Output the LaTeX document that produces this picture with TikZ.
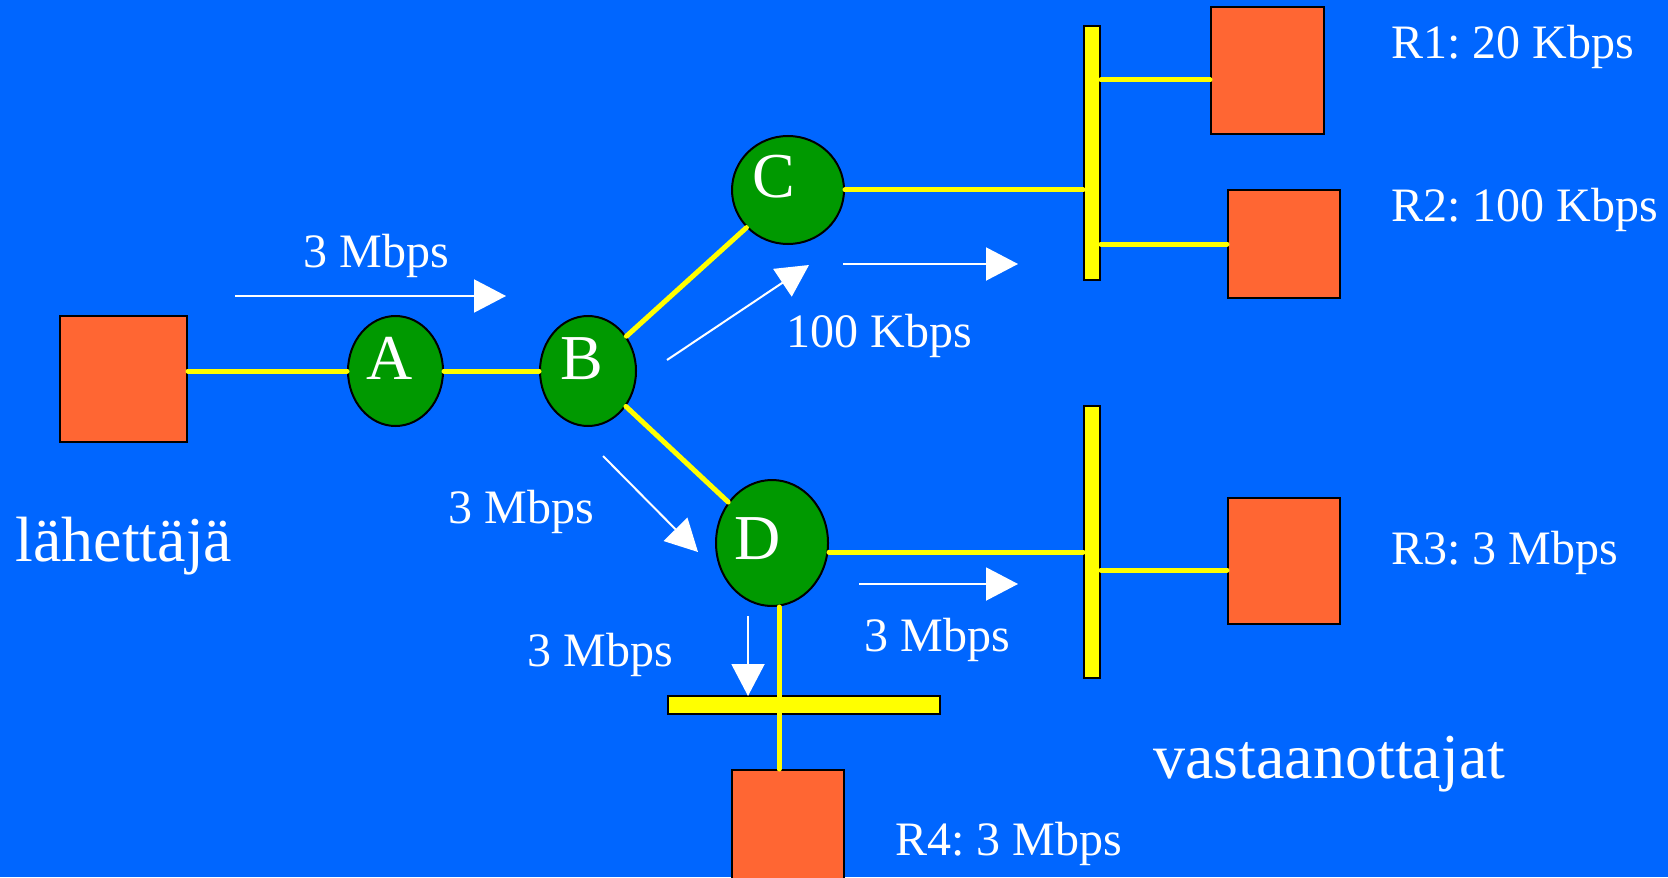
\documentclass[tikz,border=0pt]{standalone}
\usepackage{fontspec}
\setmainfont{Liberation Serif}
\usetikzlibrary{positioning, arrows.meta, shapes.geometric, calc}
\definecolor{BlueBg}{HTML}{0066FF}
\definecolor{HostFill}{HTML}{FF6633}
\definecolor{RouterFill}{HTML}{009900}
\definecolor{LinkYel}{HTML}{FFFF00}
\frenchspacing
\tikzset{
  host/.style={draw=black, fill=HostFill, line width=1pt, inner sep=0pt,
               minimum width=56pt, minimum height=63pt},
  router/.style={ellipse, draw=black, fill=RouterFill, line width=1pt,
                 inner sep=0pt, text=white, font=\fontsize{32}{32}\selectfont,
                 text height=22pt, text depth=14pt,
                 minimum width=56pt, minimum height=55pt},
  bus/.style={draw=black, fill=LinkYel, line width=1pt, inner sep=0pt},
  link/.style={draw=LinkYel, line width=2.5pt, line cap=round},
  flow/.style={draw=white, line width=1pt, -{Triangle[length=16pt,width=16.5pt]}},
  rate/.style={text=white, font=\fontsize{24}{28}\selectfont, inner sep=0pt,
               anchor=base west},
  big/.style={text=white, font=\fontsize{32}{38}\selectfont, inner sep=0pt,
              anchor=base west},
}

\begin{document}
\begin{tikzpicture}[x=0.5pt, y=-0.5pt]
  \fill[BlueBg] (0,0) rectangle (1668,877);
  \useasboundingbox (0,0) rectangle (1668,877);

  % hosts and routers
  \node[host, minimum width=63.5pt] (send) at (123.5,379) {};
  \node[router, minimum width=47.5pt] (A) at (395.5,371) {\hspace*{-6pt}A};
  \node[router, minimum width=48pt]   (B) at (588,371)   {\hspace*{-6pt}B};
  \node[router, minimum height=54pt]  (C) at (788,190)   {\hspace*{-14pt}C};
  \node[router, minimum height=63pt, text depth=6pt] (D) at (772,543) {\hspace*{-14pt}D};

  \node[bus, minimum width=8pt, minimum height=127pt] (bus1) at (1092,153) {};
  \node[bus, minimum width=8pt, minimum height=136pt] (bus2) at (1092,542) {};
  \node[bus, minimum width=136pt, minimum height=9pt] (bus3) at (804,705) {};

  \node[host, minimum width=56.5pt, minimum height=63.5pt] (R1) at (1267.5,70.5) {};
  \node[host, minimum height=54pt] (R2) at (1284,244) {};
  \node[host] (R3) at (1284,561) {};
  \node[host] (R4) at (788,833) {};

  % links
  \draw[link] (A.west) -- (A.west -| send.east);
  \draw[link] (A) -- (B);
  \draw[link] (B) -- (C);
  \draw[link] (B) -- (D);
  \draw[link] (C.east) -- (C.east -| bus1.west);
  \draw[link] ([yshift=-4.75pt]R1.west) -- ([yshift=-4.75pt]R1.west -| bus1.east);
  \draw[link] (R2.west) -- (R2.west -| bus1.east);
  \draw[link] ([yshift=-4.5pt]D.east) -- ([yshift=-4.5pt]D.east -| bus2.west);
  \draw[link] ([yshift=-4.5pt]R3.west) -- ([yshift=-4.5pt]R3.west -| bus2.east);
  \draw[link] ([xshift=3.5pt]D.south) -- ([xshift=3.5pt]D.south |- R4.north);

  % traffic
  \draw[flow] (235,296) -- (506,296);
  \draw[flow] (667,360) -- (809,265);
  \draw[flow] (843,264) -- (1018,264);
  \draw[flow] (603,456) -- (698,552);
  \draw[flow] (859,584) -- (1018,584);
  \draw[flow] (748,616) -- (748,696);

  \node[rate] (rAB)   at (303,267)  {3 Mbps};
  \node[rate] (rBC)   at (786,347)  {100 Kbps};
  \node[rate] (rBD)   at (448,523)  {3 Mbps};
  \node[rate] (rDR)   at (864,651)  {3 Mbps};
  \node[rate] (rDown) at (527,666)  {3 Mbps};
  \node[rate] (r1)    at (1391,59)  {R1: 20 Kbps};
  \node[rate] (r2)    at (1391,221) {R2: 100 Kbps};
  \node[rate] (r3)    at (1391,564) {R3: 3 Mbps};
  \node[rate] (r4)    at (895,855)  {R4: 3 Mbps};
  \node[big] (sendlbl) at (15,561)   {lähettäjä};
  \node[big] (rcvlbl)  at (1153,778) {vastaanottajat};
\end{tikzpicture}
\end{document}
